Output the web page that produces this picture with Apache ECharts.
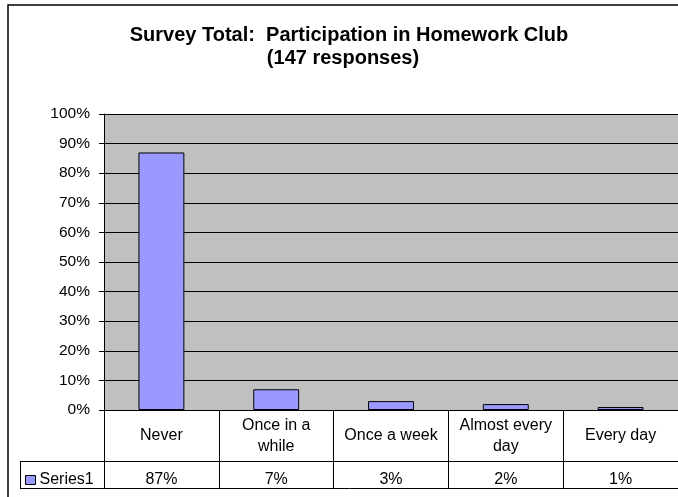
<!DOCTYPE html>
<html>
<head>
<meta charset="utf-8">
<script src="https://cdn.jsdelivr.net/npm/echarts@6/dist/echarts.min.js"></script>
<style>html,body{margin:0;padding:0;background:#fff}#c{width:678px;height:497px}</style>
</head>
<body>
<div id="c"></div>
<script>
var titleLines = ['Survey Total:  Participation in Homework Club', '(147 responses)'];
var categories = ['Never', 'Once in a\nwhile', 'Once a week', 'Almost every\nday', 'Every day'];
var seriesName = 'Series1';
var values = [87, 7, 3, 2, 1];
var yTicks = [0, 10, 20, 30, 40, 50, 60, 70, 80, 90, 100];

var FONT = 'Liberation Sans, Arial, sans-serif';
var chart = echarts.init(document.getElementById('c'), null, {renderer: 'canvas'});
chart.setOption({
  animation: false,
  backgroundColor: '#fff',
  grid: {left: 104, top: 114, width: 576, height: 296, backgroundColor: '#C0C0C0', show: true, borderWidth: 0},
  legend: {
    data: [seriesName], left: 25, top: 472, padding: 0,
    itemWidth: 10, itemHeight: 9, itemGap: 0,
    icon: 'rect',
    itemStyle: {borderColor: '#000', borderWidth: 1},
    textStyle: {fontFamily: FONT, fontSize: 16, color: '#000', padding: [0, 0, 0, -1]}
  },
  xAxis: [{
    type: 'category', data: categories, position: 'bottom',
    axisLine: {show: true, lineStyle: {color: '#000', width: 1}},
    axisTick: {show: true, interval: 0, length: 78, lineStyle: {color: '#000', width: 1}},
    axisLabel: {interval: 0, margin: 26, verticalAlign: 'middle', fontFamily: FONT, fontSize: 16, lineHeight: 21, color: '#000'},
    splitLine: {show: false}
  }, {
    type: 'category', data: values.map(function (v) { return v + '%'; }), position: 'bottom', offset: 51,
    axisLine: {show: true, lineStyle: {color: '#000', width: 1}},
    axisTick: {show: false},
    axisLabel: {interval: 0, margin: 19, verticalAlign: 'middle', fontFamily: FONT, fontSize: 16, color: '#000'}
  }],
  yAxis: {
    type: 'value', min: yTicks[0], max: yTicks[yTicks.length - 1], interval: 10,
    axisLine: {show: true, lineStyle: {color: '#000', width: 1}},
    axisTick: {show: true, length: 5, lineStyle: {color: '#000'}},
    axisLabel: {formatter: '{value}%', margin: 14, fontFamily: FONT, fontSize: 15.5, color: '#000'},
    splitLine: {show: true, lineStyle: {color: '#000', width: 1}}
  },
  series: [{
    name: seriesName, type: 'bar', data: values, barWidth: '40%', xAxisIndex: 0,
    itemStyle: {color: '#9999FF', borderColor: '#000', borderWidth: 1}
  }],
  graphic: [
    {type: 'rect', shape: {x: 8, y: 5, width: 700, height: 520}, style: {fill: 'none', stroke: '#000', lineWidth: 1.5}, silent: true},
    {type: 'text', x: 349, y: 35, style: {text: titleLines[0], fontFamily: FONT, fontSize: 20, fontWeight: 'bold', fill: '#000', align: 'center', verticalAlign: 'middle'}},
    {type: 'text', x: 343, y: 58, style: {text: titleLines[1], fontFamily: FONT, fontSize: 20, fontWeight: 'bold', fill: '#000', align: 'center', verticalAlign: 'middle'}},
    {type: 'line', shape: {x1: 20, y1: 461.5, x2: 104, y2: 461.5}, style: {stroke: '#000', lineWidth: 1}},
    {type: 'line', shape: {x1: 20, y1: 488.5, x2: 680, y2: 488.5}, style: {stroke: '#000', lineWidth: 1}},
    {type: 'line', shape: {x1: 20.5, y1: 461, x2: 20.5, y2: 489}, style: {stroke: '#000', lineWidth: 1}}
  ]
});
</script>
</body>
</html>
